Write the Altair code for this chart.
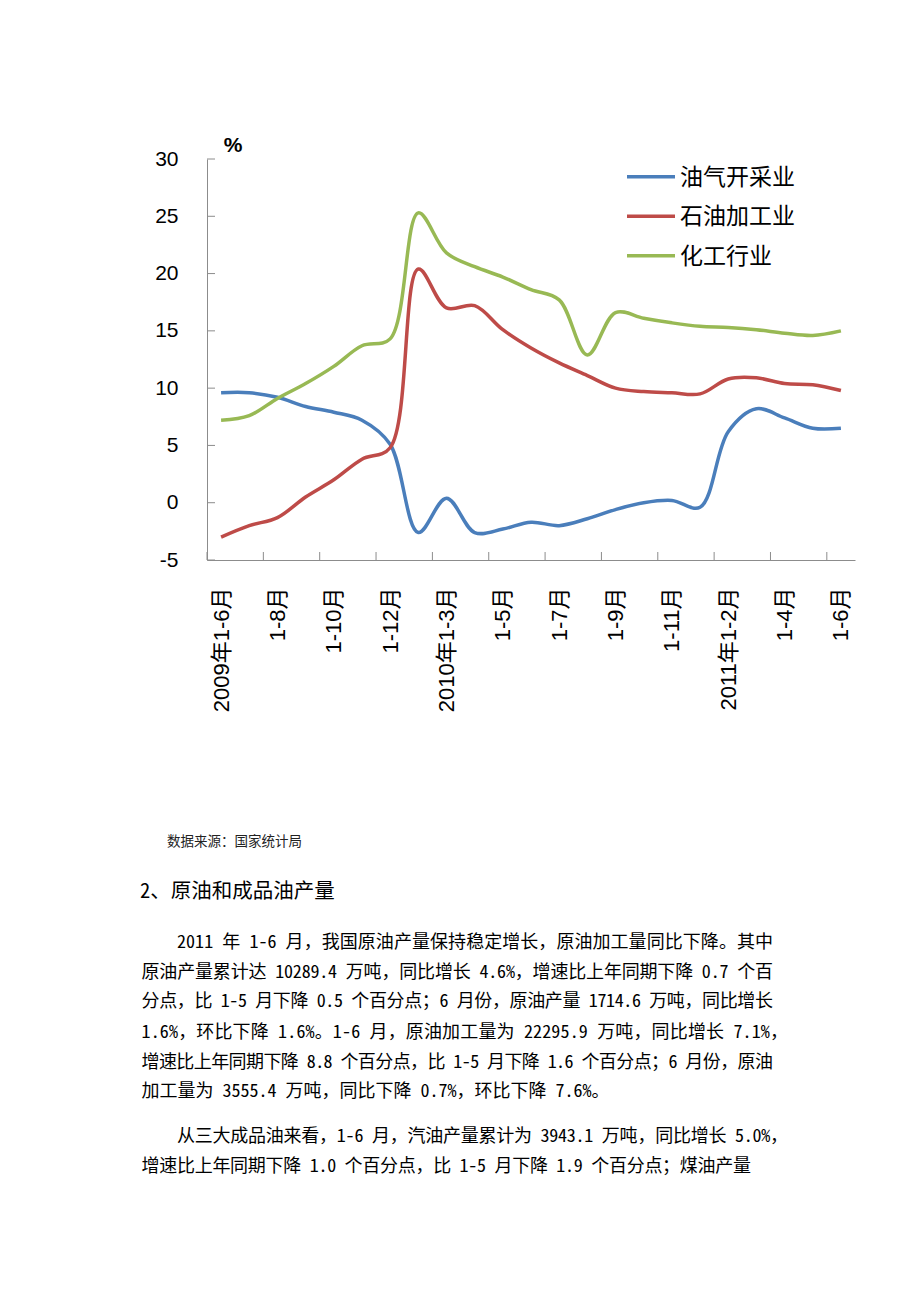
import altair as alt
import pandas as pd

# ---------------- data ----------------
periods = ["2009年1-6月", "1-7月", "1-8月", "1-9月", "1-10月", "1-11月", "1-12月",
           "2010年1-2月", "2010年1-3月", "1-4月", "1-5月", "1-6月", "1-7月", "1-8月",
           "1-9月", "1-10月", "1-11月", "1-12月",
           "2011年1-2月", "1-3月", "1-4月", "1-5月", "1-6月"]

series_names = ["油气开采业", "石油加工业", "化工行业"]

oil_gas = [9.6, 9.6, 9.2, 8.4, 7.9, 7.2, 5.1, -2.6, 0.4, -2.6, -2.3, -1.7, -2.0,
           -1.4, -0.6, 0.0, 0.2, -0.4, 6.2, 8.2, 7.4, 6.5, 6.5]
refining = [-3.0, -2.0, -1.3, 0.5, 2.0, 3.8, 4.8, 20.4, 17.0, 17.2, 15.1, 13.5, 12.2,
            11.1, 10.0, 9.7, 9.6, 9.5, 10.8, 10.9, 10.4, 10.3, 9.8]
chemical = [7.2, 7.6, 9.1, 10.4, 11.9, 13.7, 14.3, 25.3, 21.8, 20.6, 19.7, 18.6, 17.7,
            12.9, 16.6, 16.1, 15.7, 15.4, 15.3, 15.1, 14.8, 14.6, 15.0]

y_ticks = [-5, 0, 5, 10, 15, 20, 25, 30]

source_text = "数据来源：国家统计局"
heading_text = "2、原油和成品油产量"
body_lines = [
    "2011 年 1-6 月，我国原油产量保持稳定增长，原油加工量同比下降。其中",
    "原油产量累计达 10289.4 万吨，同比增长 4.6%，增速比上年同期下降 0.7 个百",
    "分点，比 1-5 月下降 0.5 个百分点；6 月份，原油产量 1714.6 万吨，同比增长",
    "1.6%，环比下降 1.6%。1-6 月，原油加工量为 22295.9 万吨，同比增长 7.1%，",
    "增速比上年同期下降 8.8 个百分点，比 1-5 月下降 1.6 个百分点；6 月份，原油",
    "加工量为 3555.4 万吨，同比下降 0.7%，环比下降 7.6%。",
    "从三大成品油来看，1-6 月，汽油产量累计为 3943.1 万吨，同比增长 5.0%，",
    "增速比上年同期下降 1.0 个百分点，比 1-5 月下降 1.9 个百分点；煤油产量",
]

# ---------------- tables ----------------
rows = []
for name, vals in zip(series_names, [oil_gas, refining, chemical]):
    for i, v in enumerate(vals):
        rows.append({"idx": i, "period": periods[i], "series": name, "value": v})
df = pd.DataFrame(rows)

n = len(periods)
W, H = 648, 401
OX, OY = 207, 159          # plot origin on the page
Y_MIN, Y_MAX = -5, 30
colors = ["#4A7EBB", "#BE4B48", "#98B954"]
axis_gray = "#8C8C8C"
chart_font = "Liberation Sans, Noto Sans CJK SC"
cjk_font = "Noto Sans CJK SC"
body_font = "Noto Sans Mono CJK SC, Noto Sans CJK SC"

label_array = "[" + ",".join("'" + p + "'" for p in periods) + "]"

color_scale = alt.Scale(domain=series_names, range=colors)
x_scale = alt.Scale(domain=[-0.5, n - 0.5], nice=False, zero=False)
y_scale = alt.Scale(domain=[Y_MIN, Y_MAX], nice=False, zero=False)

lines = alt.Chart(df).mark_line(
    interpolate="catmull-rom", strokeWidth=3.5
).encode(
    x=alt.X("idx:Q", scale=x_scale,
            axis=alt.Axis(values=list(range(0, n, 2)),
                          labelExpr=label_array + "[datum.value]",
                          labelAngle=-90, labelAlign="right", labelBaseline="middle",
                          labelPadding=27, labelFontSize=22, labelFont=chart_font,
                          title=None, ticks=False, tickSize=0, grid=False,
                          domainColor=axis_gray, labelColor="#000000",
                          labelOverlap=False, labelBound=False, labelFlush=False)),
    y=alt.Y("value:Q", scale=y_scale,
            axis=alt.Axis(values=y_ticks, labelExpr="'' + datum.value",
                          labelPadding=29, labelFontSize=21,
                          labelFont=chart_font, title=None, ticks=False, tickSize=0,
                          grid=False, domainColor=axis_gray, labelColor="#000000",
                          labelOverlap=False, labelFlush=False)),
    color=alt.Color("series:N", scale=color_scale, legend=None),
    detail="series:N",
)

# inside tick marks (Excel style)
yt = alt.Chart(pd.DataFrame({"v": y_ticks})).mark_rule(
    color=axis_gray, strokeWidth=1
).encode(y=alt.Y("v:Q", scale=y_scale), x=alt.value(0), x2=alt.value(8))

xt = alt.Chart(pd.DataFrame({"b": [i - 0.5 for i in range(0, n, 2)]})).mark_rule(
    color=axis_gray, strokeWidth=1
).encode(x=alt.X("b:Q", scale=x_scale), y=alt.value(H), y2=alt.value(H - 8))

layers = [lines, yt, xt]

# legend (drawn manually to match the reference layout)
for k, name in enumerate(series_names):
    ly = 17.7 + 39.5 * k
    ldf = pd.DataFrame({"series": [name]})
    layers.append(alt.Chart(ldf).mark_rule(strokeWidth=3.5).encode(
        x=alt.value(420), x2=alt.value(468), y=alt.value(ly),
        color=alt.Color("series:N", scale=color_scale, legend=None)))
    layers.append(alt.Chart(ldf).mark_text(
        align="left", baseline="middle", font=cjk_font, fontSize=23, color="#000000"
    ).encode(x=alt.value(473), y=alt.value(ly + 1), text="series:N"))

# "%" unit label
layers.append(alt.Chart(pd.DataFrame({"t": ["%"]})).mark_text(
    align="center", baseline="middle", font=chart_font, fontSize=21,
    fontWeight="bold", color="#000000"
).encode(x=alt.value(26), y=alt.value(-13), text="t:N"))

# source note and heading below the chart
layers.append(alt.Chart(pd.DataFrame({"t": [source_text]})).mark_text(
    align="left", baseline="middle", font=cjk_font, fontSize=13.5, color="#222222"
).encode(x=alt.value(167 - OX), y=alt.value(842 - OY), text="t:N"))

layers.append(alt.Chart(pd.DataFrame({"t": [heading_text]})).mark_text(
    align="left", baseline="middle", font=body_font, fontSize=20.5, color="#000000"
).encode(x=alt.value(140 - OX), y=alt.value(892 - OY), text="t:N"))

# justified body text (page layout: left edge, right edge or None, baseline centre)
body_fs = 18
line_left = [177, 141.5, 141.5, 141.5, 141.5, 141.5, 177, 141.5]
line_right = [773, 773, 773, 788, 773, None, 788, 751]
line_y = [943, 972.5, 1002, 1032.5, 1062.5, 1092.3, 1137.3, 1166.5]


def char_w(c):
    return 0.5 if ord(c) < 128 else 1.0


step = W / n
char_rows = []
for t, left, right, py in zip(body_lines, line_left, line_right, line_y):
    ws = [char_w(c) * body_fs for c in t]
    extra = 0.0 if right is None else (right - left - sum(ws)) / (len(t) - 1)
    px = left
    for c, w in zip(t, ws):
        if c != " ":
            char_rows.append({
                "ch": c,
                "tx": -0.5 + (px - OX) / step,
                "ty": Y_MAX - (py - OY) * (Y_MAX - Y_MIN) / H,
            })
        px += w + extra
chars = pd.DataFrame(char_rows)

layers.append(alt.Chart(chars).mark_text(
    align="left", baseline="middle", font=body_font, fontSize=body_fs, color="#000000"
).encode(x=alt.X("tx:Q", scale=x_scale), y=alt.Y("ty:Q", scale=y_scale), text="ch:N"))

chart = alt.layer(*layers).properties(
    width=W, height=H,
    autosize=alt.AutoSizeParams(type="none"),
    padding={"left": OX, "top": OY, "right": 920 - OX - W, "bottom": 1302 - OY - H},
    background="#ffffff",
).configure_view(stroke=None)

chart.save("out.html", embed_options={"renderer": "svg", "actions": False})
